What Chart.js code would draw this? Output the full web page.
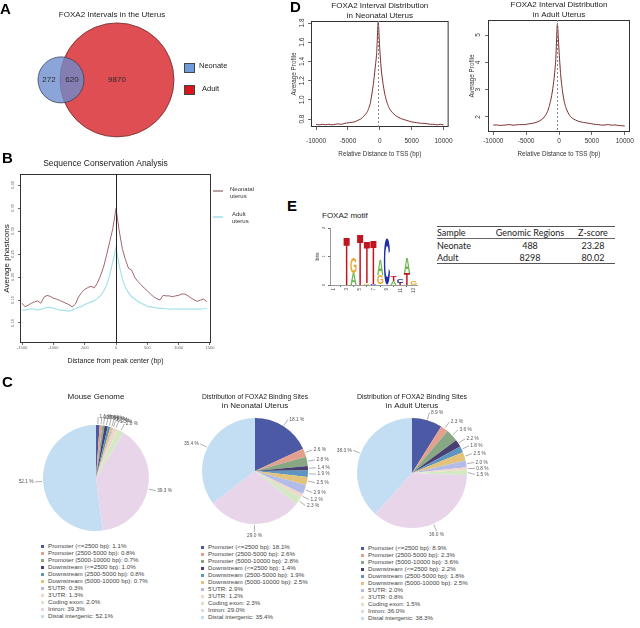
<!DOCTYPE html>
<html lang="en">
<head>
<meta charset="utf-8">
<title>FOXA2 in the uterus</title>
<script src="https://cdn.jsdelivr.net/npm/chart.js@4.4.1/dist/chart.umd.min.js"></script>
<style>
  html, body { margin: 0; padding: 0; background: #fff; }
  #figure { position: relative; width: 640px; height: 628px; overflow: hidden;
    font-family: 'Liberation Sans', Arial, sans-serif; color: #333; }
  #figure canvas { position: absolute; }
  .panel { position: absolute; font-weight: bold; font-size: 15px; line-height: 1; color: #000; }
  .t { position: absolute; white-space: nowrap; line-height: 1; }
  .sw { position: absolute; box-sizing: border-box; }
  table.stats { position: absolute; left: 437px; top: 226px; width: 178px; border-collapse: collapse;
    font-family: Lato, 'Liberation Sans', sans-serif; font-size: 9px; color: #222; }
  table.stats td { padding: 0; height: 12px; vertical-align: middle; }
  table.stats tr.head td { border-top: 1.5px solid #555; border-bottom: 1px solid #666; height: 11px; }
  table.stats tr.last td { border-bottom: 1.5px solid #555; }
</style>
</head>
<body>
<div id="figure">
  <canvas id="vennChart" width="290" height="150" style="left:0;top:0"></canvas>
  <canvas id="consChart" width="242" height="215" style="left:0;top:150px"></canvas>
  <canvas id="tssNeoChart" width="170" height="162" style="left:290px;top:0"></canvas>
  <canvas id="tssAdultChart" width="178" height="162" style="left:462px;top:0"></canvas>
  <canvas id="motifChart" width="120" height="85" style="left:305px;top:220px"></canvas>
  <canvas id="pieGenome" width="205" height="150" style="left:0;top:388px"></canvas>
  <canvas id="pieNeo" width="210" height="150" style="left:150px;top:388px"></canvas>
  <canvas id="pieAdult" width="230" height="150" style="left:305px;top:388px"></canvas>

  <div class="panel" style="left:0;top:1px">A</div>
  <div class="panel" style="left:2px;top:150px">B</div>
  <div class="panel" style="left:2px;top:374px">C</div>
  <div class="panel" style="left:290px;top:-1px">D</div>
  <div class="panel" style="left:287px;top:198px">E</div>

  <div class="t" style="left:322px;top:212px;font-size:8px;color:#222">FOXA2 motif</div>
  <table class="stats" id="statsTable"></table>
</div>

<script>
'use strict';

// ---- A: Venn ----
const vennSets = ['Neonate', 'Adult'];
const vennCounts = [272, 620, 9870]; // nur Neonate, beide, nur Adult

// ---- B: Sequenzkonservierung ----
const consSeries = ['Neonatal uterus', 'Adult uterus'];
const consDistance = [
  -1500, -1450, -1400, -1350, -1300, -1250, -1200, -1150, -1100, -1050,
  -1000, -950, -900, -850, -800, -750, -700, -650, -600, -550,
  -500, -450, -400, -350, -300, -250, -200, -150, -100, -50,
  0, 50, 100, 150, 200, 250, 300, 350, 400, 450,
  500, 550, 600, 650, 700, 750, 800, 850, 900, 950,
  1000, 1050, 1100, 1150, 1200, 1250, 1300, 1350, 1400, 1450,
];
const consNeonatal = [
  0.143, 0.135, 0.139, 0.143, 0.146, 0.148, 0.143, 0.156, 0.160, 0.158,
  0.154, 0.152, 0.149, 0.146, 0.143, 0.140, 0.135, 0.141, 0.156, 0.166,
  0.173, 0.177, 0.180, 0.176, 0.186, 0.202, 0.221, 0.248, 0.277, 0.306,
  0.349, 0.302, 0.262, 0.238, 0.219, 0.215, 0.199, 0.190, 0.183, 0.176,
  0.170, 0.163, 0.157, 0.153, 0.150, 0.160, 0.159, 0.159, 0.157, 0.159,
  0.160, 0.163, 0.163, 0.159, 0.154, 0.150, 0.147, 0.150, 0.152, 0.146,
];
const consAdult = [
  0.128, 0.128, 0.130, 0.131, 0.130, 0.128, 0.130, 0.132, 0.134, 0.134,
  0.132, 0.130, 0.128, 0.128, 0.127, 0.126, 0.128, 0.131, 0.134, 0.136,
  0.140, 0.143, 0.146, 0.148, 0.153, 0.159, 0.169, 0.182, 0.204, 0.234,
  0.264, 0.226, 0.197, 0.177, 0.166, 0.157, 0.152, 0.147, 0.143, 0.140,
  0.136, 0.135, 0.134, 0.133, 0.132, 0.132, 0.131, 0.130, 0.130, 0.131,
  0.130, 0.130, 0.130, 0.130, 0.130, 0.130, 0.130, 0.130, 0.131, 0.131,
];
const consTicksX = [-1500, -1000, -500, 0, 500, 1000, 1500];
const consTicksY = [0.10, 0.15, 0.20, 0.25, 0.30, 0.35, 0.40];

// ---- C: Verteilung der Bindungsstellen ----
const pieCategories = [
  'Promoter (<=2500 bp)', 'Promoter (2500-5000 bp)', 'Promoter (5000-10000 bp)',
  'Downstream (<=2500 bp)', 'Downstream (2500-5000 bp)', 'Downstream (5000-10000 bp)',
  "5'UTR", "3'UTR", 'Coding exon', 'Intron', 'Distal intergenic',
];
const pieGenome = [1.1, 0.8, 0.7, 1.0, 0.8, 0.7, 0.3, 1.3, 2.0, 39.3, 52.1];
const pieNeonatal = [18.1, 2.6, 2.8, 1.4, 1.9, 2.5, 2.9, 1.2, 2.3, 29.0, 35.4];
const pieAdultUterus = [8.9, 2.3, 3.6, 2.2, 1.8, 2.5, 2.0, 0.8, 1.5, 36.0, 38.3];

// ---- D: Abstand zur TSS ----
const tssDistance = [
  -10000, -9500, -9000, -8500, -8000, -7500, -7000, -6500, -6000, -5500, -5000, -4500, -4000, -3500, -3000, -2500, -2000,
  -1750, -1500, -1250, -1000, -750, -500, -250, 0, 250, 500, 750, 1000, 1250, 1500, 1750,
  2000, 2500, 3000, 3500, 4000, 4500, 5000, 5500, 6000, 6500, 7000, 7500, 8000, 8500, 9000, 9500, 10000,
];
const tssNeonatal = [
  0.745, 0.74, 0.745, 0.74, 0.745, 0.74, 0.745, 0.75, 0.745, 0.755, 0.76, 0.765, 0.77, 0.785, 0.80, 0.83, 0.87,
  0.91, 0.96, 1.06, 1.17, 1.32, 1.48, 1.82, 1.52, 1.30, 1.17, 1.07, 1.00, 0.95, 0.91, 0.885,
  0.865, 0.835, 0.815, 0.80, 0.79, 0.78, 0.77, 0.765, 0.76, 0.755, 0.755, 0.75, 0.745, 0.745, 0.74, 0.745, 0.74,
];
const tssAdult = [
  1.70, 1.71, 1.69, 1.70, 1.71, 1.72, 1.70, 1.71, 1.72, 1.72, 1.73, 1.75, 1.77, 1.80, 1.85, 1.93, 2.08,
  2.20, 2.38, 2.62, 2.95, 3.40, 4.05, 5.42, 4.45, 3.55, 3.00, 2.62, 2.38, 2.22, 2.10, 2.02,
  1.96, 1.89, 1.84, 1.81, 1.79, 1.77, 1.75, 1.73, 1.72, 1.70, 1.71, 1.72, 1.70, 1.71, 1.69, 1.68, 1.67,
];
const tssPeak = -250;
const tssTicksX = [-10000, -5000, 0, 5000, 10000];
const tssTicksNeonatal = [0.8, 1.0, 1.2, 1.4, 1.6, 1.8];
const tssTicksAdult = [2, 3, 4, 5];

// ---- E: Motiv und Tabelle ----
const motifPositions = ['1', '2', '3', '4', '5', '6', '7', '8', '9', '10', '11', '12', '13'];
const motifLowerLetters = [null, null, 'T', 'A', 'T', 'G', 'C', 'G', 'C', 'A', 'T', 'T', 'G'];
const motifLowerBits = [0, 0, 1.72, 0.40, 1.80, 0.06, 0.05, 0.35, 1.65, 0.15, 0.08, 0.42, 0.15];
const motifUpperLetters = [null, null, null, 'G', null, 'T', 'T', 'A', null, 'T', 'C', 'A', null];
const motifUpperBits = [0, 0, 0, 0.55, 0, 1.44, 1.55, 0.53, 0, 0.18, 0.14, 0.53, 0];
const statsHeader = ['Sample', 'Genomic Regions', 'Z-score'];
const statsSamples = ['Neonate', 'Adult'];
const statsRegions = [488, 8298];
const statsZscore = ['23.28', '80.02'];

// ---- Stile ----
const FONT = "'Liberation Sans', Arial, sans-serif";
const pieColors = [
  '#4c5aa6', '#e3a08e', '#87a882', '#4a3f72', '#5d94c0', '#e3c27a',
  '#b3bbe8', '#f2d6c8', '#d3e9c4', '#e8d5ea', '#c3def3',
];
const motifColors = { A: '#6cb84e', C: '#1c2fa6', G: '#e8a72e', T: '#c0141e' };
// Lage der Kreise im Venn-Diagramm (Diagrammeinheiten)
const vennLayout = [
  { x: 61, rad: 23, fill: 'rgba(108, 140, 205, 0.78)', line: '#3a4060' },
  { x: 117, rad: 57, fill: '#df4e52', line: '#6b2c2c' },
];

Chart.defaults.font.family = FONT;
Chart.defaults.color = '#333';
Chart.defaults.animation = false;
Chart.defaults.responsive = false;
Chart.defaults.plugins.legend.display = false;
Chart.defaults.plugins.tooltip.enabled = false;
Chart.defaults.layout.autoPadding = false;

const fixSize = px => scale => {
  if (scale.isHorizontal()) scale.height = px;
  else scale.width = px;
};
const setTicks = values => scale => {
  scale.ticks = values.map(value => ({ value }));
};
const plain = v => String(v);
const tickGrid = len => ({ display: true, drawOnChartArea: false, tickLength: len, color: '#444', lineWidth: 0.8 });

// Rahmen um die Plotfläche und senkrechte Markierung
const boxPlugin = {
  id: 'box',
  afterDatasetsDraw(chart, args, opts) {
    const { ctx, chartArea: a } = chart;
    ctx.save();
    ctx.strokeStyle = '#333';
    ctx.lineWidth = 1;
    ctx.strokeRect(a.left + 0.5, a.top + 0.5, a.width - 1, a.height - 1);
    if (opts.vline !== undefined) {
      const x = Math.round(chart.scales.x.getPixelForValue(opts.vline)) + 0.5;
      ctx.strokeStyle = opts.vlineColor || '#000';
      ctx.setLineDash(opts.dash || []);
      ctx.beginPath();
      ctx.moveTo(x, a.top);
      ctx.lineTo(x, a.bottom);
      ctx.stroke();
    }
    ctx.restore();
  },
};

// Prozentangaben mit Hinweislinien am Kuchenrand
const pieLabels = {
  id: 'pieLabels',
  afterDatasetsDraw(chart, args, opts) {
    const { ctx } = chart;
    const values = chart.data.datasets[0].data;
    const items = chart.getDatasetMeta(0).data.map((arc, i) => {
      const p = arc.getProps(['x', 'y', 'startAngle', 'endAngle', 'outerRadius'], true);
      const mid = (p.startAngle + p.endAngle) / 2;
      const lr = p.outerRadius + 8;
      return {
        text: values[i].toFixed(1) + ' %',
        ex: p.x + Math.cos(mid) * (p.outerRadius + 1),
        ey: p.y + Math.sin(mid) * (p.outerRadius + 1),
        lx: p.x + Math.cos(mid) * lr,
        ly: p.y + Math.sin(mid) * lr,
        right: Math.cos(mid) >= 0,
        bottom: Math.sin(mid) > 0.9,
      };
    });
    if (opts.gap) {
      const side = items.filter(d => d.right && !d.bottom).sort((a, b) => a.ly - b.ly);
      for (let k = 1; k < side.length; k++) {
        if (side[k].ly - side[k - 1].ly < opts.gap) side[k].ly = side[k - 1].ly + opts.gap;
      }
    }
    ctx.save();
    ctx.font = `4.8px ${FONT}`;
    ctx.fillStyle = '#555';
    ctx.strokeStyle = '#777';
    ctx.lineWidth = 0.6;
    items.forEach(d => {
      ctx.beginPath();
      ctx.moveTo(d.ex, d.ey);
      ctx.lineTo(d.lx, d.ly);
      ctx.stroke();
      if (d.bottom) {
        ctx.textAlign = 'center';
        ctx.textBaseline = 'top';
        ctx.fillText(d.text, d.lx, d.ly + 1);
      } else {
        ctx.textAlign = d.right ? 'left' : 'right';
        ctx.textBaseline = 'middle';
        ctx.fillText(d.text, d.lx + (d.right ? 1.5 : -1.5), d.ly);
      }
    });
    ctx.restore();
  },
};

// Buchstaben des Sequenzlogos in die Balken einpassen
function drawLetter(ctx, ch, left, top, w, h) {
  if (h < 0.4 || w < 0.4) return;
  ctx.save();
  ctx.font = `bold 100px ${FONT}`;
  const m = ctx.measureText(ch);
  const gw = m.actualBoundingBoxLeft + m.actualBoundingBoxRight;
  const gh = m.actualBoundingBoxAscent + m.actualBoundingBoxDescent;
  ctx.translate(left, top);
  ctx.scale(w / gw, h / gh);
  ctx.fillStyle = motifColors[ch];
  ctx.textBaseline = 'alphabetic';
  ctx.textAlign = 'left';
  ctx.fillText(ch, m.actualBoundingBoxLeft, m.actualBoundingBoxAscent);
  ctx.restore();
}
const logoPlugin = {
  id: 'logo',
  afterDatasetsDraw(chart) {
    const { ctx } = chart;
    chart.data.datasets.forEach((ds, di) => {
      chart.getDatasetMeta(di).data.forEach((bar, i) => {
        const ch = ds.letters[i];
        if (!ch) return;
        const { x, y, base, width } = bar.getProps(['x', 'y', 'base', 'width'], true);
        drawLetter(ctx, ch, x - width / 2, Math.min(y, base), width, Math.abs(base - y));
      });
    });
  },
};

// Kreise und Zahlen im Venn-Diagramm, über die Skalen platziert
const vennPlugin = {
  id: 'venn',
  beforeDatasetsDraw(chart) {
    const { ctx, scales: { x, y } } = chart;
    const cy = y.getPixelForValue(0);
    ctx.save();
    // Adult zuerst, Neonate halbtransparent darüber
    [...vennLayout].reverse().forEach(g => {
      const cx = x.getPixelForValue(g.x);
      const r = x.getPixelForValue(g.x + g.rad) - cx;
      ctx.beginPath();
      ctx.arc(cx, cy, r, 0, Math.PI * 2);
      ctx.fillStyle = g.fill;
      ctx.fill();
      ctx.lineWidth = 0.8;
      ctx.strokeStyle = g.line;
      ctx.stroke();
    });
    ctx.restore();
  },
  afterDatasetsDraw(chart) {
    const { ctx, scales: { x, y } } = chart;
    const [a, b] = vennLayout;
    const spots = [
      (a.x - a.rad + b.x - b.rad) / 2,
      (b.x - b.rad + a.x + a.rad) / 2,
      b.x,
    ];
    ctx.save();
    ctx.font = `8px ${FONT}`;
    ctx.fillStyle = '#2a2a2a';
    ctx.textAlign = 'center';
    ctx.textBaseline = 'middle';
    vennCounts.forEach((n, i) => ctx.fillText(String(n), x.getPixelForValue(spots[i]), y.getPixelForValue(0)));
    ctx.restore();
  },
};

// A: Venn
new Chart(document.getElementById('vennChart'), {
  type: 'scatter',
  data: {
    datasets: vennSets.map((name, i) => ({
      label: name,
      data: [{ x: vennLayout[i].x, y: 0 }],
      pointRadius: 0,
    })),
  },
  options: {
    layout: { padding: { left: 0, right: 66, top: 0, bottom: 10 } },
    plugins: {
      title: { display: true, text: 'FOXA2 Intervals in the Uterus', fullSize: false, color: '#222',
        font: { size: 8, weight: 'normal' }, padding: { top: 10.2, bottom: 0 } },
    },
    scales: {
      x: { type: 'linear', min: 0, max: 224, display: false },
      y: { type: 'linear', min: -1, max: 1, display: false },
    },
  },
  plugins: [vennPlugin],
});

// B: Sequenzkonservierung
new Chart(document.getElementById('consChart'), {
  type: 'line',
  data: {
    datasets: [
      { label: consSeries[0], data: consDistance.map((x, i) => ({ x, y: consNeonatal[i] })),
        borderColor: '#a0666b', borderWidth: 1, pointRadius: 0, tension: 0 },
      { label: consSeries[1], data: consDistance.map((x, i) => ({ x, y: consAdult[i] })),
        borderColor: '#a6e2ea', borderWidth: 1.2, pointRadius: 0, tension: 0 },
    ],
  },
  options: {
    layout: { padding: { left: 0, right: 31, top: 0, bottom: 0 } },
    plugins: {
      title: { display: true, text: 'Sequence Conservation Analysis', color: '#222',
        font: { size: 8.5, weight: 'normal' }, padding: { top: 8.9, bottom: 4.9 } },
      box: { vline: 0, vlineColor: '#222' },
    },
    scales: {
      x: {
        type: 'linear', min: -1532, max: 1516,
        afterBuildTicks: setTicks(consTicksX), afterFit: fixSize(22),
        ticks: { font: { size: 4 }, color: '#666', padding: 0, maxRotation: 0, callback: plain },
        grid: tickGrid(2), border: { display: false },
        title: { display: true, text: 'Distance from peak center (bp)', color: '#222',
          font: { size: 7 }, padding: { top: 0, bottom: 0 } },
      },
      y: {
        min: 0.0565, max: 0.424,
        afterBuildTicks: setTicks(consTicksY), afterFit: fixSize(20),
        ticks: { font: { size: 4 }, color: '#666', padding: 1, minRotation: 90, maxRotation: 90,
          crossAlign: 'center', callback: v => v.toFixed(2) },
        grid: tickGrid(2), border: { display: false },
        title: { display: true, text: 'Average phastcons', color: '#222', font: { size: 8 },
          padding: { top: 1.5, bottom: 0 } },
      },
    },
  },
  plugins: [boxPlugin],
});

// D: Profile um die TSS
function makeTss(id, values, titleLines, y, lay) {
  return new Chart(document.getElementById(id), {
    type: 'line',
    data: {
      datasets: [{ label: 'Average Profile', data: tssDistance.map((x, i) => ({ x, y: values[i] })),
        borderColor: '#7a2b2b', borderWidth: 1, pointRadius: 0, tension: 0.2 }],
    },
    options: {
      layout: { padding: { left: 0, right: lay.right, top: 0, bottom: 0 } },
      plugins: {
        title: { display: true, text: titleLines, fullSize: false, color: '#222',
          font: { size: 8, weight: 'normal', lineHeight: 1.25 }, padding: { top: lay.titleTop, bottom: 0 } },
        box: { vline: tssPeak, vlineColor: '#888', dash: [2, 2] },
      },
      scales: {
        x: {
          type: 'linear', min: -10800, max: 10800,
          afterBuildTicks: setTicks(tssTicksX), afterFit: fixSize(lay.xh),
          ticks: { font: { size: 6.5 }, color: '#333', padding: lay.xPad, maxRotation: 0, callback: plain },
          grid: tickGrid(3), border: { display: false },
          title: { display: true, text: 'Relative Distance to TSS (bp)', color: '#333',
            font: { size: 6.3 }, padding: { top: 0, bottom: 4.2 } },
        },
        y: {
          min: y.min, max: y.max,
          afterBuildTicks: setTicks(y.ticks), afterFit: fixSize(lay.yw),
          ticks: { font: { size: 6.5 }, color: '#333', padding: lay.yPad, minRotation: 90, maxRotation: 90,
            crossAlign: 'center', callback: y.fmt },
          grid: tickGrid(3), border: { display: false },
          title: { display: true, text: 'Average Profile', color: '#333', font: { size: 6.3 },
            padding: { top: lay.yTitle, bottom: 0 } },
        },
      },
    },
    plugins: [boxPlugin],
  });
}
makeTss('tssNeoChart', tssNeonatal, ['FOXA2 Interval Distribution', 'in Neonatal Uterus'],
  { min: 0.717, max: 1.821, ticks: tssTicksNeonatal, fmt: v => v.toFixed(1) },
  { right: 5, titleTop: 1, xh: 35, xPad: 7, yw: 21, yPad: 1.5, yTitle: 0 });
makeTss('tssAdultChart', tssAdult, ['FOXA2 Interval Distribution', 'in Adult Uterus'],
  { min: 1.45, max: 5.55, ticks: tssTicksAdult, fmt: plain },
  { right: 10, titleTop: 0, xh: 30, xPad: 2, yw: 26, yPad: 5.2, yTitle: 6.2 });

// E: Sequenzlogo
new Chart(document.getElementById('motifChart'), {
  type: 'bar',
  data: {
    labels: motifPositions,
    datasets: [
      { label: 'lower', data: motifLowerBits, letters: motifLowerLetters, backgroundColor: 'rgba(0,0,0,0)',
        categoryPercentage: 1, barPercentage: 0.92 },
      { label: 'upper', data: motifUpperBits, letters: motifUpperLetters, backgroundColor: 'rgba(0,0,0,0)',
        categoryPercentage: 1, barPercentage: 0.92 },
    ],
  },
  options: {
    layout: { padding: { left: 0, right: 8, top: 8, bottom: 0 } },
    scales: {
      x: {
        stacked: true, afterFit: fixSize(20),
        ticks: { font: { size: 4.5 }, color: '#444', padding: 1, minRotation: 90, maxRotation: 90 },
        grid: tickGrid(2), border: { display: true, color: '#555', width: 0.6 },
      },
      y: {
        stacked: true, min: 0, max: 2, afterBuildTicks: setTicks([0, 1, 2]), afterFit: fixSize(25),
        ticks: { font: { size: 4 }, color: '#444', padding: 2.9, minRotation: 90, maxRotation: 90, crossAlign: 'center' },
        grid: tickGrid(2), border: { display: true, color: '#555', width: 0.6 },
        title: { display: true, text: 'bits', color: '#333', font: { size: 5 }, padding: { top: 10, bottom: 0 } },
      },
    },
  },
  plugins: [logoPlugin],
});

// C: Kuchendiagramme
function makePie(id, values, titleLines, pad, titleBottom, gap) {
  return new Chart(document.getElementById(id), {
    type: 'pie',
    data: { labels: pieCategories, datasets: [{ data: values, backgroundColor: pieColors, borderWidth: 0 }] },
    options: {
      layout: { padding: pad },
      plugins: {
        title: { display: true, text: titleLines, fullSize: false, color: '#222',
          font: { size: 8, weight: 'normal', lineHeight: 1.15 }, padding: { top: 4.4, bottom: titleBottom } },
        pieLabels: { gap },
      },
    },
    plugins: [pieLabels],
  });
}
makePie('pieGenome', pieGenome, 'Mouse Genome', { left: 43, right: 56, top: 0, bottom: 7 }, 23.4, 0);
makePie('pieNeo', pieNeonatal, ['Distribution of FOXA2 Binding Sites', 'in Neonatal Uterus'],
  { left: 52, right: 52, top: 0, bottom: 14 }, 7.2, 6);
makePie('pieAdult', pieAdultUterus, ['Distribution of FOXA2 Binding Sites', 'in Adult Uterus'],
  { left: 52, right: 68, top: 0, bottom: 10 }, 7.2, 6);

// ---- HTML-Legenden und Tabelle ----
const fig = document.getElementById('figure');
function addText(text, x, yMid, size, color) {
  const el = document.createElement('div');
  el.className = 't';
  el.textContent = text;
  el.style.left = x + 'px';
  el.style.top = (yMid - size * 0.49) + 'px';
  el.style.fontSize = size + 'px';
  el.style.color = color;
  fig.appendChild(el);
}
function addSwatch(x, y, w, h, bg, border) {
  const el = document.createElement('div');
  el.className = 'sw';
  Object.assign(el.style, { left: x + 'px', top: y + 'px', width: w + 'px', height: h + 'px', background: bg });
  if (border) el.style.border = border;
  fig.appendChild(el);
}

// Legende A
addSwatch(184, 63, 11, 10, '#6f9bd8', '0.8px solid #444');
addText(vennSets[0], 199, 65.5, 7.5, '#222');
addSwatch(184, 85, 11, 10, '#d8161b', '0.8px solid #444');
addText(vennSets[1], 202, 88.5, 7.5, '#222');

// Legende B
addSwatch(213, 190, 10, 1.6, '#b8a2a4');
consSeries[0].split(' ').forEach((w, i) => addText(w, 230, 188.5 + i * 7.5, 6, '#333'));
addSwatch(213, 216, 10, 1.6, '#b8e6ee');
consSeries[1].split(' ').forEach((w, i) => addText(w, 232, 213.5 + i * 7.5, 6, '#333'));

// Legenden C
function pieLegend(x, y0, values) {
  pieCategories.forEach((name, i) => {
    const y = y0 + i * 7.05;
    addSwatch(x, y - 1.5, 3, 3, pieColors[i]);
    addText(`${name}: ${values[i].toFixed(1)}%`, x + 7, y, 6.2, '#444');
  });
}
pieLegend(41, 546, pieGenome);
pieLegend(201, 547, pieNeonatal);
pieLegend(361, 548, pieAdultUterus);

// Tabelle E
const table = document.getElementById('statsTable');
const colW = [52, 82, 44];
const aligns = ['left', 'center', 'center'];
const addRow = (cells, cls) => {
  const tr = document.createElement('tr');
  if (cls) tr.className = cls;
  cells.forEach((c, j) => {
    const td = document.createElement('td');
    td.textContent = c;
    td.style.width = colW[j] + 'px';
    td.style.textAlign = aligns[j];
    tr.appendChild(td);
  });
  table.appendChild(tr);
};
addRow(statsHeader, 'head');
statsSamples.forEach((s, i) =>
  addRow([s, String(statsRegions[i]), statsZscore[i]], i === statsSamples.length - 1 ? 'last' : ''));
</script>
</body>
</html>
